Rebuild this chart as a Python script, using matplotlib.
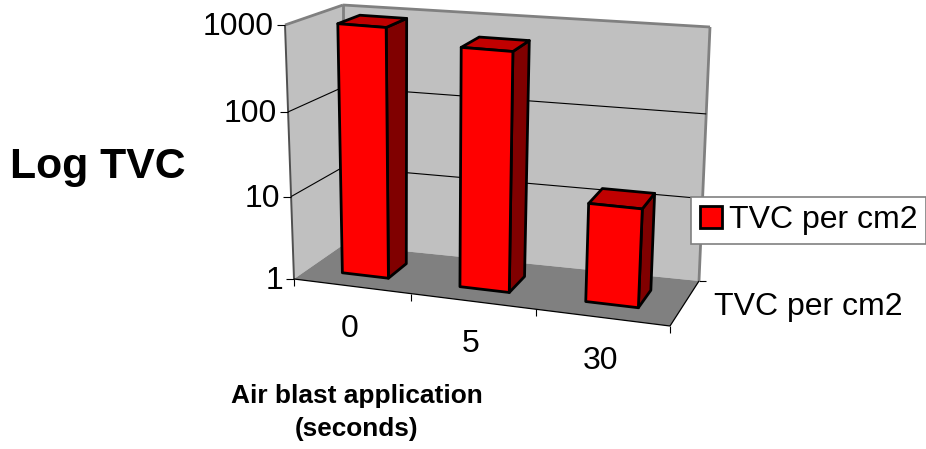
import numpy as np
import matplotlib
matplotlib.use('Agg')
import matplotlib.pyplot as plt
from matplotlib.patches import Polygon, Patch

plt.rcParams['font.family'] = ['Liberation Sans', 'DejaVu Sans']

categories = ['0', '5', '30']
tvc_values = [950, 660, 14.5]
y_ticks = [1, 10, 100, 1000]
y_labels = ['1', '10', '100', '1000']
series_name = 'TVC per cm2'

# pixel positions of the 8 corners of the chart box, index = (u, z, depth)
corners = np.zeros((2, 2, 2, 2))
corners[0, 0, 0] = (294, 279)
corners[0, 1, 0] = (285, 25)
corners[0, 0, 1] = (343, 245)
corners[0, 1, 1] = (343, 5)
corners[1, 0, 0] = (670, 326)
corners[1, 1, 0] = (683, 59)
corners[1, 0, 1] = (699, 281)
corners[1, 1, 1] = (710, 27)


def project(u, z, d):
    # trilinear mix of the corners, good enough for a weak perspective
    u = u - 0.1 * u * (1 - u)
    z = z - 0.04 * z * (1 - z)
    p = np.zeros(2)
    for i, wu in enumerate((1 - u, u)):
        for j, wz in enumerate((1 - z, z)):
            for k, wd in enumerate((1 - d, d)):
                p += wu * wz * wd * corners[i, j, k]
    return p


def log_z(v):
    return np.log10(v) / np.log10(y_ticks[-1])


def face(ax, pts, color, edge='none', lw=0, zorder=1):
    ax.add_patch(Polygon(pts, closed=True, facecolor=color, edgecolor=edge,
                         linewidth=lw, joinstyle='round', zorder=zorder))


def seg(ax, a, b, color='black', lw=1.0, zorder=2):
    ax.plot([a[0], b[0]], [a[1], b[1]], color=color, lw=lw, zorder=zorder,
            solid_capstyle='butt')


fig = plt.figure(figsize=(9.26, 4.49), dpi=100)
ax = fig.add_axes([0, 0, 1, 1])
ax.set_xlim(0, 926)
ax.set_ylim(449, 0)
ax.axis('off')

# walls and floor
face(ax, [project(0, 0, 0), project(0, 1, 0), project(0, 1, 1), project(0, 0, 1)], '#c0c0c0')
face(ax, [project(0, 0, 1), project(0, 1, 1), project(1, 1, 1), project(1, 0, 1)], '#c0c0c0')
face(ax, [project(0, 0, 0), project(0, 0, 1), project(1, 0, 1), project(1, 0, 0)], '#808080')

# wall outline
seg(ax, project(0, 0, 0), project(0, 1, 0), '#505050', 1.4)
seg(ax, project(0, 1, 0), project(0, 1, 1), '#808080', 2)
seg(ax, project(0, 1, 1), project(1, 1, 1), '#808080', 2)
seg(ax, project(0, 1, 1), project(0, 0, 1), '#808080', 2)
seg(ax, project(1, 1, 1), project(1, 0, 1), '#808080', 2)

# gridlines and value axis labels
for v, lab in zip(y_ticks, y_labels):
    z = log_z(v)
    if 0 < z < 1:
        seg(ax, project(0, z, 0), project(0, z, 1), 'black', 0.8)
        seg(ax, project(0, z, 1), project(1, z, 1), 'black', 0.8)
    p = project(0, z, 0)
    seg(ax, (p[0] - 8, p[1]), p, 'black', 0.8)
    ax.text(p[0] - 11, p[1] + 2, lab, ha='right', va='center', fontsize=23)

# floor front edges
seg(ax, project(0, 0, 0), project(1, 0, 0), 'black', 0.9, 3)
seg(ax, project(1, 0, 0), project(1, 0, 1), 'black', 0.9, 3)
for i in range(len(categories) + 1):
    p = project(i / len(categories), 0, 0)
    seg(ax, p, (p[0], p[1] + 7), 'black', 0.8, 3)
p = project(1, 0, 1)
seg(ax, p, (p[0] + 7, p[1]), 'black', 0.8, 3)

# bars
n = len(categories)
d0, d1 = 0.3, 0.7
for i, v in enumerate(tvc_values):
    u0 = (i + 0.3) / n
    u1 = (i + 0.7) / n
    z = log_z(v)
    zo = 5 + i
    edge = dict(edge='black', lw=2, zorder=zo)
    face(ax, [project(u1, 0, d0), project(u1, 0, d1), project(u1, z, d1), project(u1, z, d0)], '#800000', **edge)
    face(ax, [project(u0, z, d0), project(u0, z, d1), project(u1, z, d1), project(u1, z, d0)], '#c00000', **edge)
    face(ax, [project(u0, 0, d0), project(u0, z, d0), project(u1, z, d0), project(u1, 0, d0)], '#ff0000', **edge)

# category labels
for i, lab in enumerate(categories):
    p = project((i + 0.5) / n, 0, 0)
    ax.text(p[0] - 2, p[1] + 43, lab, ha='center', va='center', fontsize=23)

ax.text(808.5, 307, series_name, ha='center', va='center', fontsize=23)
ax.text(97.5, 167, 'Log TVC', ha='center', va='center', fontsize=30.8, fontweight='bold')
ax.text(357, 412.5, 'Air blast application\n(seconds)', ha='center', va='center',
        fontsize=18.9, fontweight='bold', linespacing=1.5)

leg = ax.legend(handles=[Patch(facecolor='#ff0000', edgecolor='black', linewidth=2, label=series_name)],
                loc='center left', bbox_to_anchor=(691 / 926, 1 - 220.5 / 449), fontsize=23,
                frameon=True, fancybox=False, framealpha=1, edgecolor='#808080',
                borderaxespad=0, borderpad=0.28, handlelength=0.7, handleheight=0.7,
                handletextpad=0.2)
leg.get_frame().set_linewidth(1.2)
leg.set_zorder(20)

fig.savefig('out.png', dpi=100)
